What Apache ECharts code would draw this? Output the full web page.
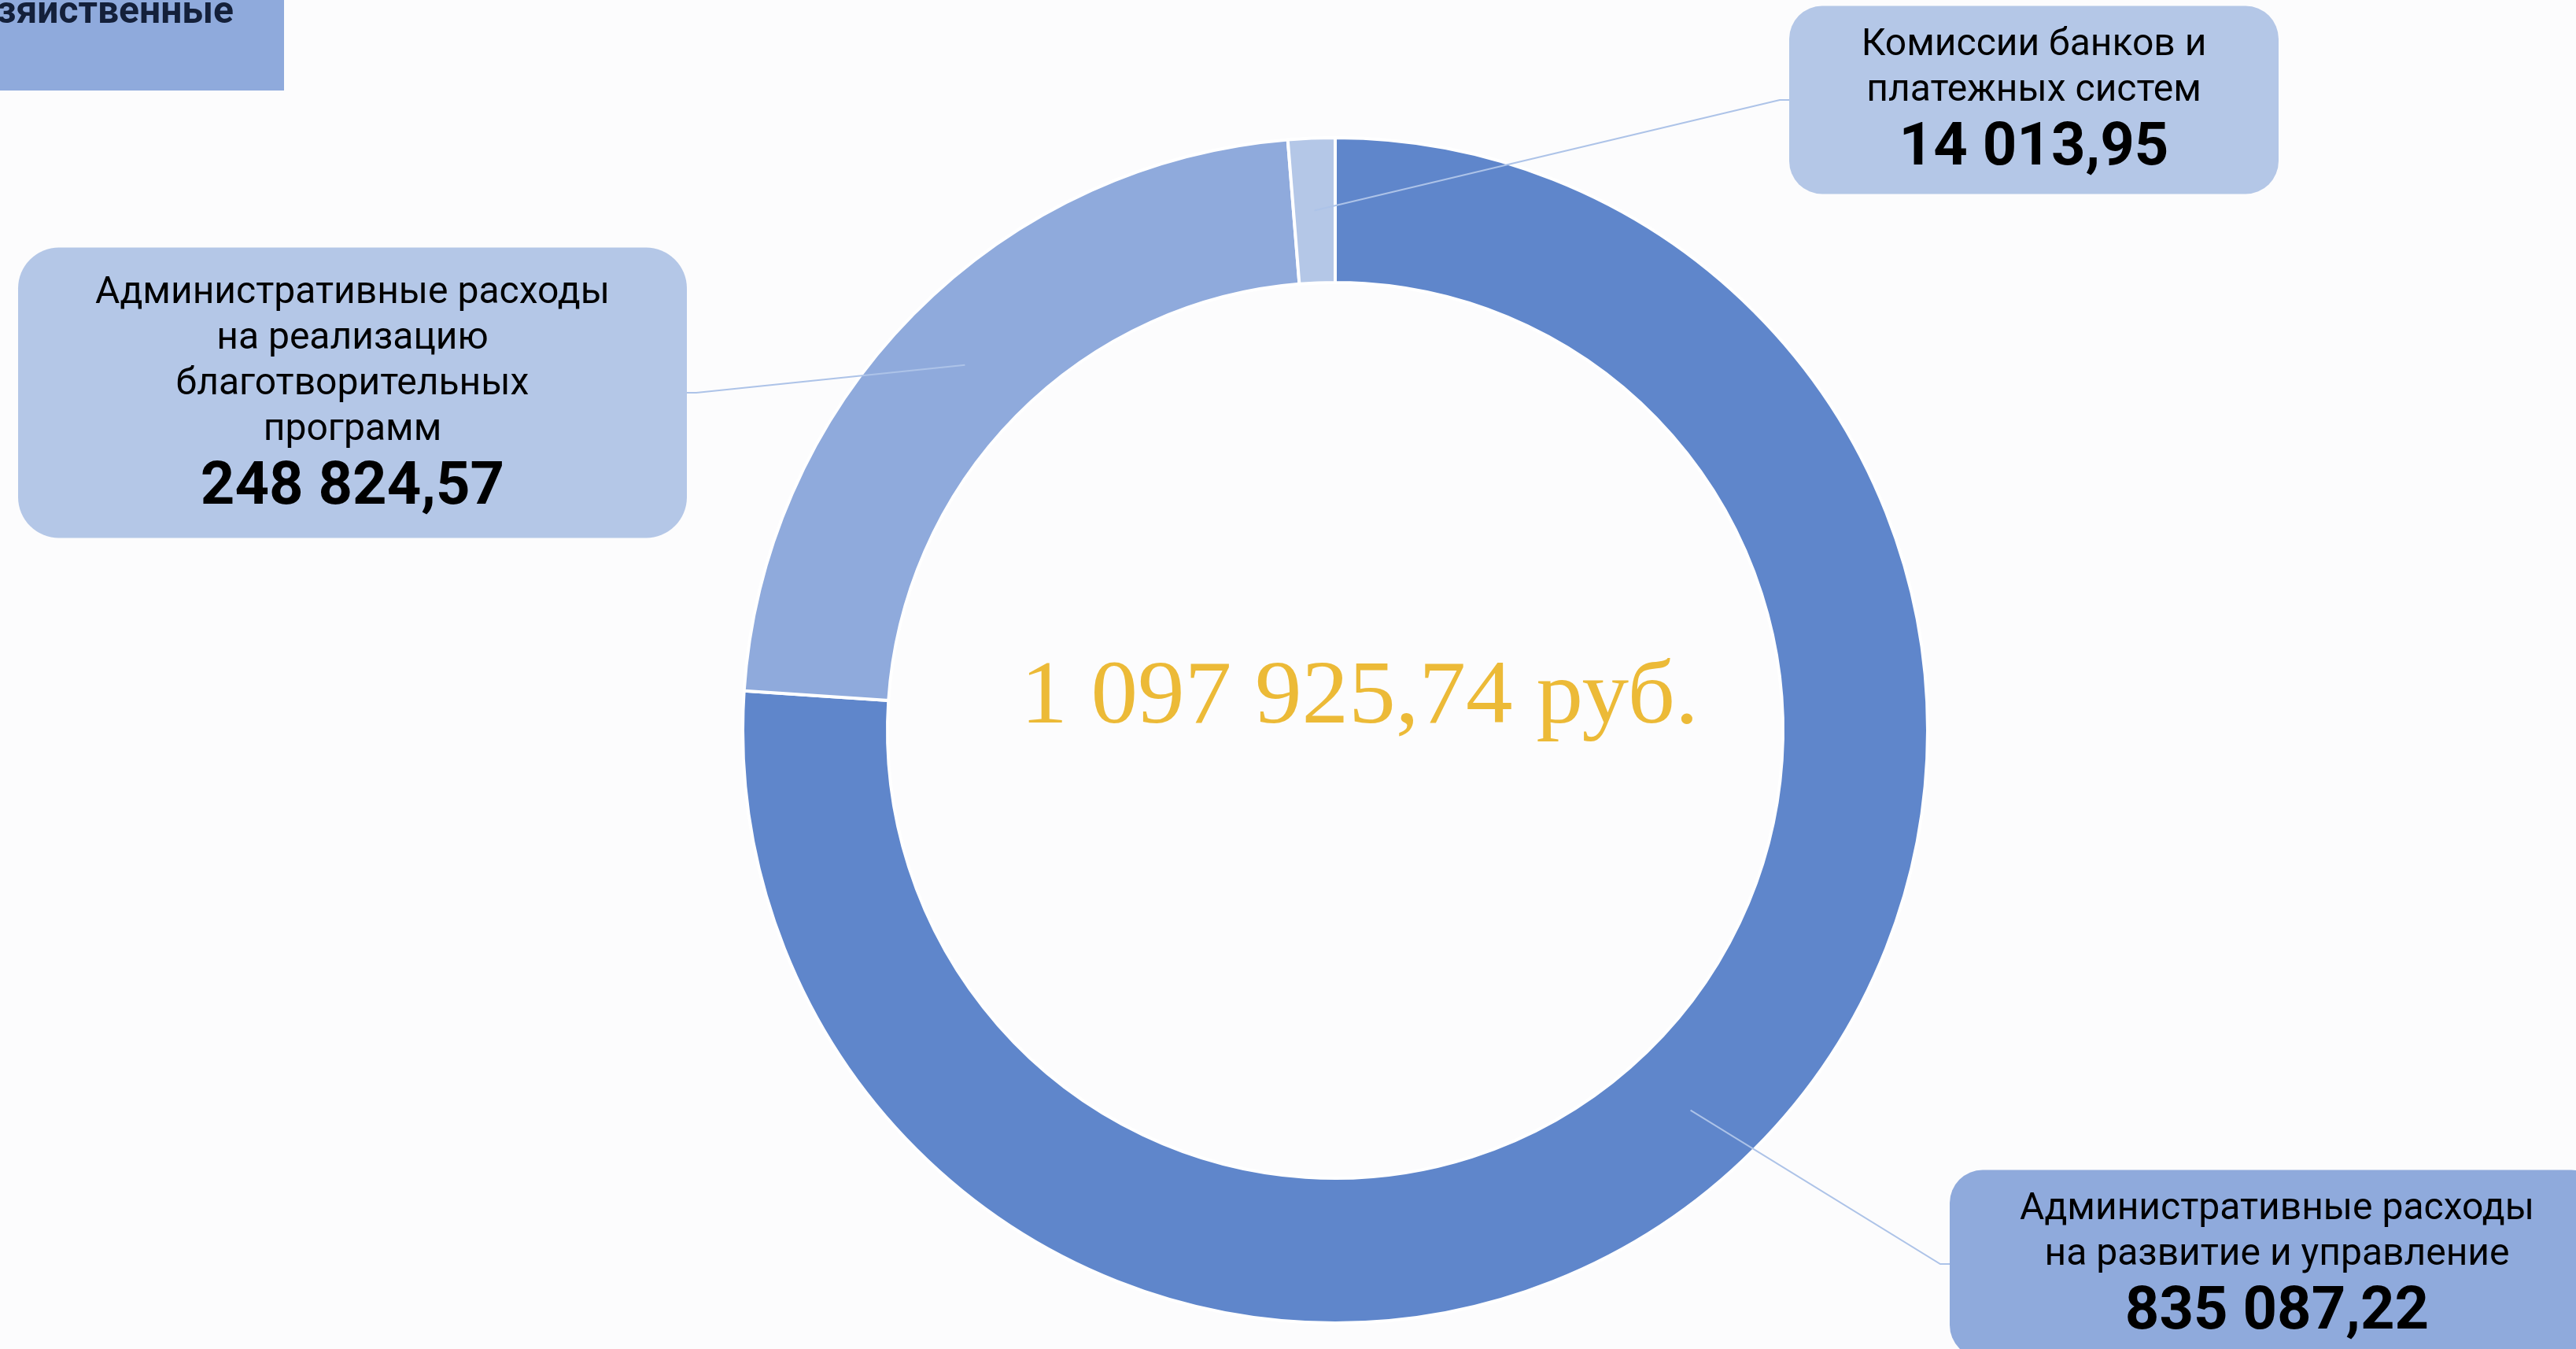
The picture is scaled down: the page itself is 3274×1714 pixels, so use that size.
<!DOCTYPE html>
<html>
<head>
<meta charset="utf-8">
<title>Административные расходы</title>
<script src="https://cdn.jsdelivr.net/npm/echarts@6/dist/echarts.min.js"></script>
<style>
  html, body { margin: 0; padding: 0; background: #fcfcfd; }
  #chart { width: 3274px; height: 1714px; }
</style>
</head>
<body>
<div id="chart"></div>
<script>
// данные диаграммы
const categories = [
  'Административные расходы\nна развитие и управление',
  'Административные расходы\nна реализацию\nблаготворительных\nпрограмм',
  'Комиссии банков и\nплатежных систем'
]
const values = [835087.22, 248824.57, 14013.95]

// стили
const sliceColors = ['#5f86cb', '#8faadc', '#b4c7e7']
const boxColors = ['#8faadc', '#b4c7e7', '#b4c7e7']

// раскладка (центр кольца, радиусы, плашки подписей)
const cx = 1697
const cy = 928
const rIn = 569
const rOut = 753
const boxes = [
  { x: 2894, y: 1606, w: 832, padT: 21, padB: 12 },
  { x: 448, y: 499, w: 850, padT: 29, padB: 18 },
  { x: 2585, y: 127, w: 622, padT: 21, padB: 12 }
]

// 835087.22 -> "835 087,22"
function fmt (v) {
  const parts = v.toFixed(2).split('.')
  return parts[0].replace(/\B(?=(\d{3})+(?!\d))/g, ' ') + ',' + parts[1]
}

const total = values.reduce((a, b) => a + b, 0)

const chart = echarts.init(document.getElementById('chart'))

const option = {
  backgroundColor: '#fcfcfd',
  animation: false,
  graphic: [
    {
      type: 'rect',
      shape: { x: 0, y: 0, width: 361, height: 115 },
      style: { fill: '#8faadc' }
    },
    {
      type: 'text',
      x: 297,
      y: -7,
      style: {
        text: 'зяйственные',
        fontFamily: 'Roboto',
        fontWeight: 'bold',
        fontSize: 48,
        fill: '#14203a',
        textAlign: 'right',
        textVerticalAlign: 'top'
      }
    },
    {
      type: 'text',
      x: 1728,
      y: 888,
      scaleX: 1.045,
      style: {
        text: fmt(total) + ' руб.',
        fontFamily: 'Liberation Serif',
        fontSize: 114,
        fill: '#ecba37',
        textAlign: 'center',
        textVerticalAlign: 'middle'
      }
    }
  ],
  series: [
    {
      // кольцо
      type: 'pie',
      z: 2,
      center: [cx, cy],
      radius: [rIn, rOut],
      startAngle: 90,
      clockwise: true,
      silent: true,
      emphasis: { disabled: true },
      itemStyle: { borderColor: '#ffffff', borderWidth: 4 },
      label: { show: false },
      labelLine: { show: false },
      data: values.map((v, i) => ({
        name: categories[i],
        value: v,
        itemStyle: { color: sliceColors[i] }
      }))
    },
    {
      // прозрачный дубликат поверх кольца: подписи и выноски
      type: 'pie',
      z: 3,
      center: [cx, cy],
      radius: [rIn, rOut],
      startAngle: 90,
      clockwise: true,
      silent: true,
      avoidLabelOverlap: false,
      emphasis: { disabled: true },
      itemStyle: { color: 'rgba(0,0,0,0)', borderWidth: 0 },
      label: {
        show: true,
        position: 'outside',
        alignTo: 'none',
        color: '#000',
        formatter: (p) => '{name|' + categories[p.dataIndex] + '}\n{val|' + fmt(values[p.dataIndex]) + '}',
        rich: {
          name: { fontFamily: 'Roboto', fontSize: 48, lineHeight: 58, color: '#000', align: 'center' },
          val: { fontFamily: 'Roboto', fontWeight: 'bold', fontSize: 76, lineHeight: 90, color: '#000', align: 'center' }
        }
      },
      labelLine: {
        show: true,
        showAbove: true,
        lineStyle: { color: '#adc3e8', width: 2 }
      },
      labelLayout: (params) => {
        const i = params.dataIndex
        const b = boxes[i]
        // середина сектора по середине кольца
        let before = 0
        for (let j = 0; j < i; j++) before += values[j]
        const a = (before + values[i] / 2) / total * Math.PI * 2
        const rMid = (rIn + rOut) / 2
        const sx = cx + rMid * Math.sin(a)
        const sy = cy - rMid * Math.cos(a)
        const onRight = b.x > cx
        const ex = onRight ? b.x - b.w / 2 : b.x + b.w / 2
        const kx = onRight ? ex - 12 : ex + 12
        return {
          x: b.x,
          y: b.y,
          align: 'center',
          verticalAlign: 'middle',
          labelLinePoints: [[sx, sy], [kx, b.y], [ex, b.y]]
        }
      },
      data: values.map((v, i) => ({
        name: categories[i],
        value: v,
        label: {
          backgroundColor: boxColors[i],
          width: boxes[i].w,
          padding: [boxes[i].padT, 0, boxes[i].padB, 0],
          borderRadius: i === 1 ? 52 : 42
        }
      }))
    }
  ]
}

chart.setOption(option)
</script>
</body>
</html>
